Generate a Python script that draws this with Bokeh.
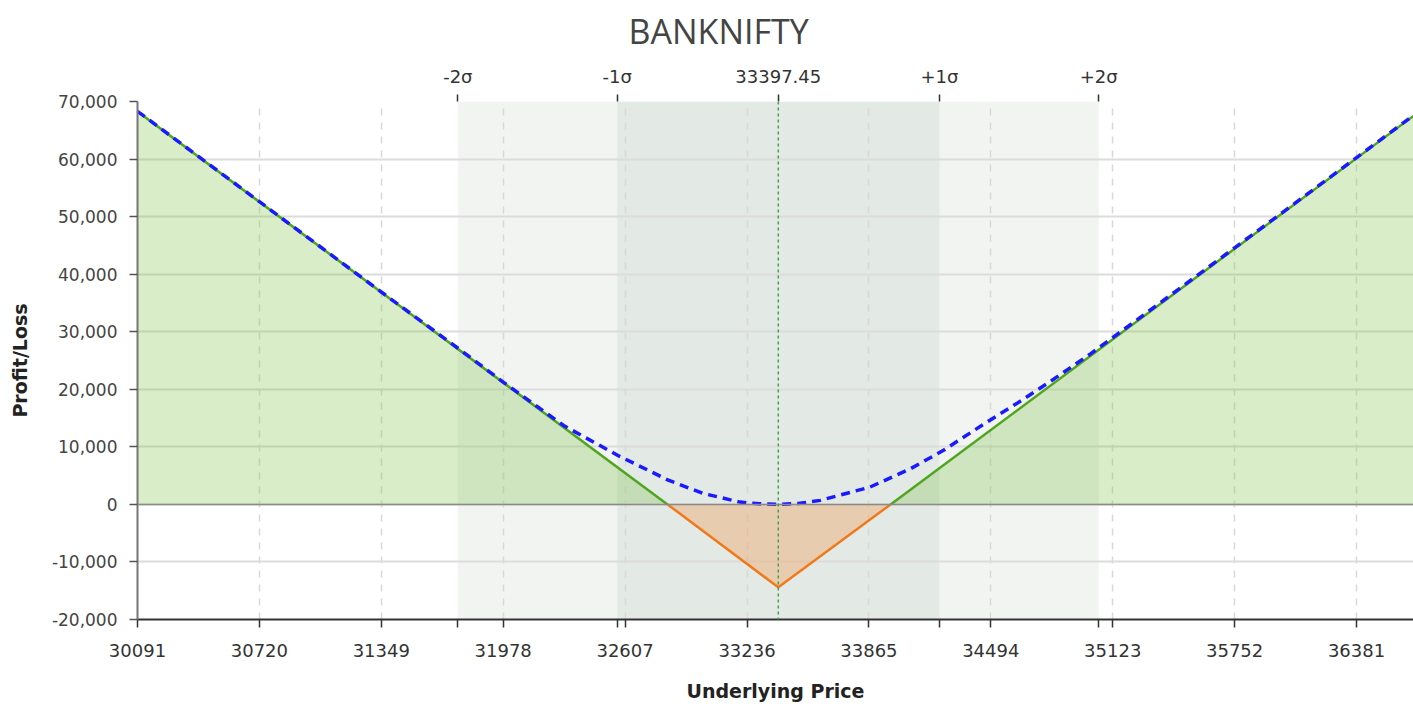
from bokeh.plotting import figure
from bokeh.models import LinearAxis, FixedTicker, BoxAnnotation, Span, Range1d, NumeralTickFormatter
from bokeh.embed import file_html
from bokeh.resources import INLINE

# ---------------- data ----------------
title_text = "BANKNIFTY"
x_label = "Underlying Price"
y_label = "Profit/Loss"

x_ticks = [30091, 30720, 31349, 31978, 32607, 33236, 33865, 34494, 35123, 35752, 36381]
y_ticks = [-20000, -10000, 0, 10000, 20000, 30000, 40000, 50000, 60000, 70000]
x_start, x_end = 30091, 36675
y_start, y_end = -20000, 70000

spot = 33397.45
sigma_prices = [31744, 32566, 33397.45, 34229, 35051]
sigma_labels = ["-2σ", "-1σ", "33397.45", "+1σ", "+2σ"]
band2 = [31744, 35051]   # +-2 sigma
band1 = [32566, 34229]   # +-1 sigma

# payoff at expiry
profit_left_x = [30091, 32826]
profit_left_y = [68250, 0]
loss_x = [32826, 33397.45, 33977]
loss_y = [0, -14400, 0]
profit_right_x = [33977, 36675]
profit_right_y = [0, 67500]

# payoff today (T+0)
t0_x = [30091, 30720, 31349, 31750, 31980, 32290, 32570, 32830, 33010, 33200, 33300,
        33397, 33500, 33615, 33870, 34080, 34250, 34460, 34650, 34820, 35010, 35205,
        35500, 36000, 36381, 36675]
t0_y = [68300, 52600, 36900, 27000, 21200, 13700, 8500, 4200, 1900, 400, 100,
        0, 150, 700, 3000, 6200, 9400, 14000, 18000, 21800, 26200, 31000,
        38300, 50750, 60250, 67600]

# ---------------- figure ----------------
p = figure(width=1413, height=704, output_backend="svg", toolbar_location=None,
           x_range=Range1d(x_start, x_end), y_range=Range1d(y_start, y_end),
           min_border_left=137, min_border_right=0, min_border_top=101, min_border_bottom=84,
           background_fill_color="white", border_fill_color="white")
p.outline_line_color = None

p.title.text = title_text
p.title.align = "left"
p.title.offset = 491
p.title.vertical_align = "top"
p.title.standoff = 14
p.title.text_line_height = 0.7
p.title.text_font = "Open Sans"
p.title.text_font_size = "34px"
p.title.text_font_style = "normal"
p.title.text_color = "#444444"

# sigma bands
p.add_layout(BoxAnnotation(left=band2[0], right=band2[1], fill_color="#f2f4f2", fill_alpha=1.0,
                           line_color=None, level="image"))
p.add_layout(BoxAnnotation(left=band1[0], right=band1[1], fill_color="#e3e9e5", fill_alpha=1.0,
                           line_color=None, level="image"))

# grids
p.ygrid.ticker = FixedTicker(ticks=y_ticks)
p.ygrid.grid_line_color = "#dcdcdc"
p.ygrid.grid_line_width = 2
p.xgrid.ticker = FixedTicker(ticks=x_ticks[1:])
p.xgrid.grid_line_color = "#d8d8d8"
p.xgrid.grid_line_width = 1.5
p.xgrid.grid_line_dash = "7 7"

# fills
green_fill = "#7dc34a"
orange_fill = "#f0a060"
p.varea(x=profit_left_x, y1=0, y2=profit_left_y, fill_color=green_fill, fill_alpha=0.3)
p.varea(x=profit_right_x, y1=0, y2=profit_right_y, fill_color=green_fill, fill_alpha=0.3)
p.varea(x=loss_x, y1=loss_y, y2=0, fill_color=orange_fill, fill_alpha=0.4)

p.add_layout(Span(location=0, dimension="width", line_color="#8a8a8a", line_width=1.5))

# lines
green_line = "#4fa61e"
orange_line = "#f07a1a"
p.line(profit_left_x, profit_left_y, line_color=green_line, line_width=2.5)
p.line(profit_right_x, profit_right_y, line_color=green_line, line_width=2.5)
p.line(loss_x, loss_y, line_color=orange_line, line_width=2.5)
p.line(t0_x, t0_y, line_color="#1a1aff", line_width=3.5, line_dash="9 6")

p.add_layout(Span(location=spot, dimension="height", line_color="#3fa34d",
                  line_dash="3 3", line_width=1.5))

# axes
tick_font = "DejaVu Sans"
xa = p.xaxis[0]
xa.ticker = FixedTicker(ticks=sorted(x_ticks + [sigma_prices[0], sigma_prices[1], sigma_prices[3], sigma_prices[4]]))
xa.major_label_overrides = {sigma_prices[0]: "", sigma_prices[1]: "", sigma_prices[3]: "", sigma_prices[4]: ""}
xa.axis_label = x_label
xa.axis_line_color = "#333333"
xa.axis_line_width = 2
xa.major_tick_in = 0
xa.major_tick_out = 8
xa.major_tick_line_color = "#333333"
xa.major_tick_line_width = 1.5
xa.minor_tick_line_color = None
xa.major_label_text_font = tick_font
xa.major_label_text_font_size = "18px"
xa.major_label_text_color = "#333333"
xa.major_label_standoff = 16
xa.axis_label_text_font = tick_font
xa.axis_label_text_font_size = "19px"
xa.axis_label_text_font_style = "bold"
xa.axis_label_text_color = "#222222"
xa.axis_label_standoff = 20

ya = p.yaxis[0]
ya.ticker = FixedTicker(ticks=y_ticks)
ya.formatter = NumeralTickFormatter(format="0,0")
ya.axis_label = y_label
ya.axis_line_color = "#777777"
ya.axis_line_width = 2
ya.major_tick_in = 0
ya.major_tick_out = 8
ya.major_tick_line_color = "#555555"
ya.major_tick_line_width = 1.5
ya.minor_tick_line_color = None
ya.major_label_text_font = tick_font
ya.major_label_text_font_size = "17px"
ya.major_label_text_color = "#444444"
ya.major_label_standoff = 12
ya.axis_label_text_font = tick_font
ya.axis_label_text_font_size = "19px"
ya.axis_label_text_font_style = "bold"
ya.axis_label_text_color = "#222222"
ya.axis_label_standoff = 18

top = LinearAxis(ticker=FixedTicker(ticks=sigma_prices),
                 major_label_overrides={v: s for v, s in zip(sigma_prices, sigma_labels)})
top.axis_line_color = None
top.major_tick_in = 0
top.major_tick_out = 7
top.major_tick_line_color = "#333333"
top.major_tick_line_width = 1.5
top.minor_tick_line_color = None
top.major_label_text_font = tick_font
top.major_label_text_font_size = "18px"
top.major_label_text_color = "#333333"
top.major_label_standoff = 8
p.add_layout(top, "above")

open("out.html", "w").write(file_html(p, INLINE))
